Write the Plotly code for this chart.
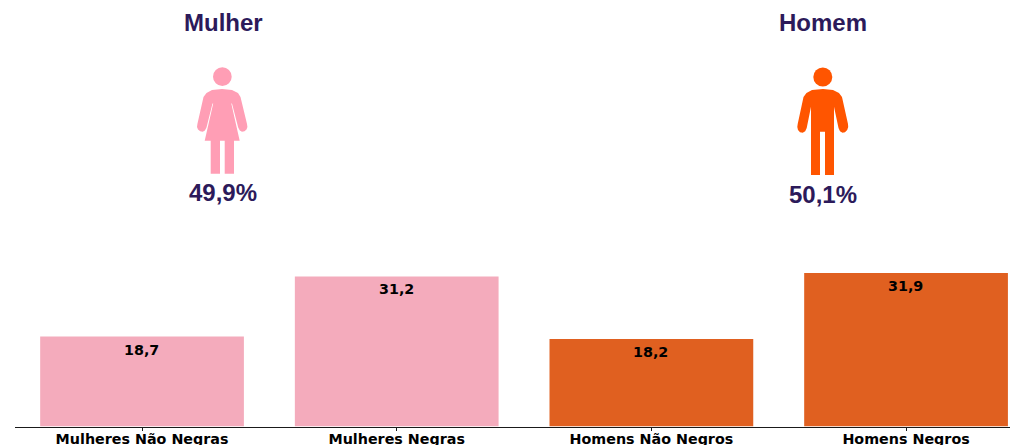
import plotly.graph_objects as go

categories = ["Mulheres Não Negras", "Mulheres Negras", "Homens Não Negros", "Homens Negros"]
values = [18.7, 31.2, 18.2, 31.9]
value_labels = ["18,7", "31,2", "18,2", "31,9"]
bar_colors = ["#F4ABBC", "#F4ABBC", "#E06020", "#E06020"]
headers = ["Mulher", "Homem"]
shares = ["49,9%", "50,1%"]

W, H = 1013, 445
INK = "#2C1A5A"
PINK = "#FF9EB5"
ORANGE = "#FF5500"


def px(x):
    return x / W


def py(y):
    return 1 - y / H


def path(points):
    return "M " + " L ".join(f"{px(x):.5f},{py(y):.5f}" for x, y in points) + " Z"


woman = [
    (222, 89), (232, 90), (238, 93), (240.5, 97), (247, 124), (247.4, 127), (246.5, 129.5), (244.5, 131.3),
    (242, 131.7), (239.8, 130.5), (238.2, 127.5), (232, 103.5), (231.3, 103.5), (239.7, 140.7), (234, 140.7),
    (234, 173.7), (224.7, 173.7), (224.7, 140.7), (220, 140.7), (220, 173.7), (210.7, 173.7), (210.7, 140.7),
    (204.7, 140.7), (213.2, 103.5), (212.5, 103.5), (206.5, 127.5), (204.9, 130.5), (202.7, 131.7), (200.2, 131.3),
    (198, 129.5), (197, 127), (197.4, 124), (203.5, 97), (206.5, 93), (212, 90),
]
man = [
    (823, 89), (833, 90), (839, 93), (842, 97), (848, 124), (848.2, 127), (847.2, 130), (845, 132.2),
    (842.5, 132.7), (840, 131.3), (838.5, 128), (834, 106.7), (834, 175), (825, 175), (825, 131.7), (820, 131.7),
    (820, 175), (811, 175), (811, 106.7), (806.7, 128), (805.2, 131.3), (802.7, 132.7), (800, 132.2),
    (798, 130), (797.3, 127), (797.7, 124), (803.5, 97), (806.5, 93), (812, 90),
]

shapes = [
    dict(type="path", xref="paper", yref="paper", path=path(woman), fillcolor=PINK, line_width=0, layer="above"),
    dict(type="path", xref="paper", yref="paper", path=path(man), fillcolor=ORANGE, line_width=0, layer="above"),
    dict(type="circle", xref="paper", yref="paper", x0=px(213), x1=px(231.7), y0=py(86), y1=py(67.3),
         fillcolor=PINK, line_width=0),
    dict(type="circle", xref="paper", yref="paper", x0=px(813.3), x1=px(832.3), y0=py(86.5), y1=py(67.5),
         fillcolor=ORANGE, line_width=0),
]

annotations = []
for text, x, y, size in [
    (headers[0], 223, 23, 24), (headers[1], 823, 23, 24),
    (shares[0], 222.5, 192, 24), (shares[1], 823.3, 194, 24),
]:
    annotations.append(dict(
        text=f"<b>{text}</b>", xref="paper", yref="paper", x=px(x), y=py(y), showarrow=False,
        xanchor="center", yanchor="middle",
        font=dict(family="Liberation Sans", size=size, color=INK),
    ))
for i, (v, label) in enumerate(zip(values, value_labels)):
    annotations.append(dict(
        text=f"<b>{label}</b>", xref="x", yref="y", x=i, y=v, yshift=-3, xshift=-0.7, showarrow=False,
        xanchor="center", yanchor="top",
        font=dict(family="DejaVu Sans", size=14.3, color="#000000"),
    ))

fig = go.Figure(go.Bar(
    x=list(range(len(categories))), y=values, width=0.8, marker=dict(color=bar_colors, line_width=0),
    hoverinfo="skip",
))

fig.update_layout(
    width=W, height=H, autosize=False, margin=dict(l=0, r=0, t=0, b=0),
    paper_bgcolor="white", plot_bgcolor="white", showlegend=False,
    shapes=shapes, annotations=annotations,
    xaxis=dict(
        domain=[px(14.7), px(1009.7)], range=[-0.5, 3.407], tickmode="array",
        tickvals=list(range(len(categories))), ticktext=[f"<b>{c}</b>" for c in categories],
        tickfont=dict(family="DejaVu Sans", size=14.3, color="#000000"),
        showline=True, linecolor="#1a1a1a", linewidth=1, ticks="outside", ticklen=3, tickwidth=1,
        tickcolor="#1a1a1a", showgrid=False, zeroline=False, automargin=False, ticklabelstandoff=-4,
    ),
    yaxis=dict(
        domain=[py(426.5), py(260)], range=[0, 166.5 / 4.81], visible=False, showgrid=False, zeroline=False,
    ),
)

fig.write_html(
    "out.html",
    config={"displayModeBar": False},
    post_script="document.body.style.margin='0';document.documentElement.style.overflow='hidden';",
)
